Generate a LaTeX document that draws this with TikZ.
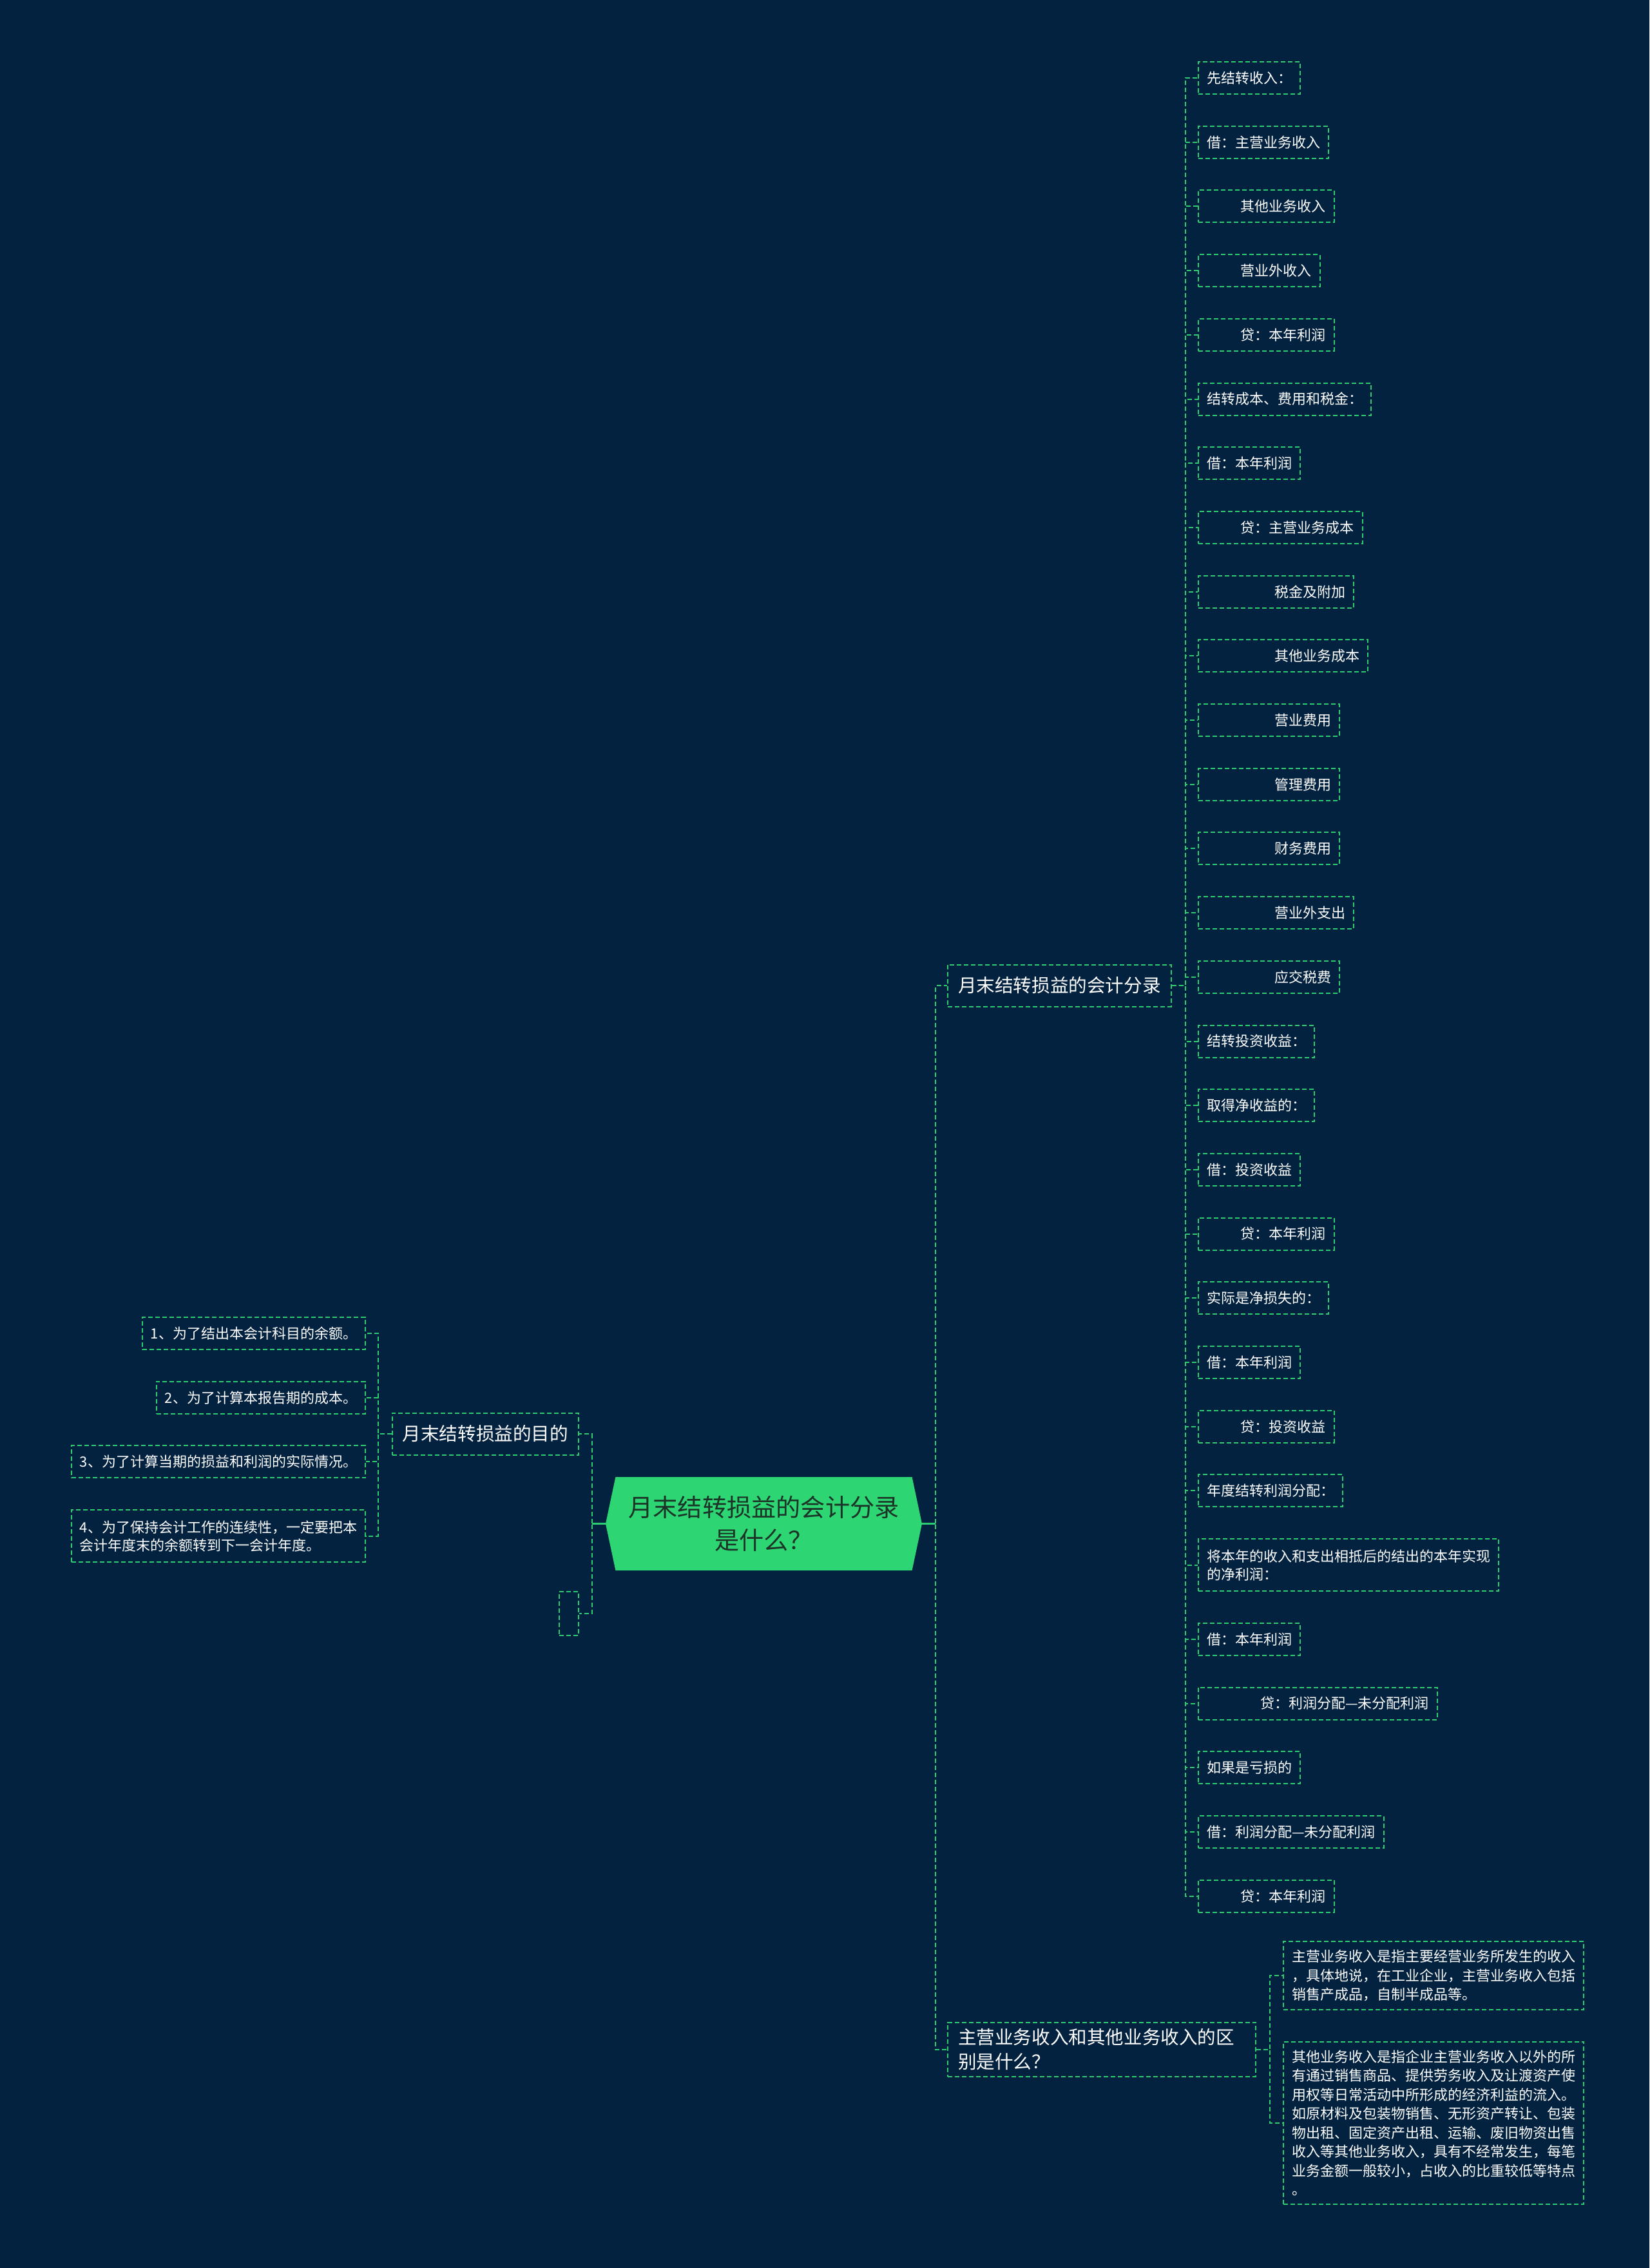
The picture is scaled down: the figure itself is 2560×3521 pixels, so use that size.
\documentclass[tikz,border=0pt]{standalone}
\usepackage{fontspec}
\setmainfont{Noto Sans CJK SC}
\usepackage{tikz}
\usetikzlibrary{positioning,shapes.symbols}
\definecolor{BgNavy}{RGB}{2,34,63}
\definecolor{LGreen}{RGB}{46,204,113}
\definecolor{RootGreen}{RGB}{46,213,115}
\definecolor{RootText}{RGB}{28,52,40}
\newcommand{\shiftA}{\hspace*{26.3pt}}
\newcommand{\shiftB}{\hspace*{52.5pt}}
\newcommand{\shiftC}{\hspace*{41.5pt}}

\tikzset{
  link/.style={draw=LGreen, line width=1pt, dash pattern=on 3.5pt off 2pt},
  leafbox/.style={draw=LGreen, line width=1pt, dash pattern=on 3.5pt off 2pt,
    text=white, font=\fontsize{11}{14}\selectfont, inner xsep=6.5pt,
    inner ysep=3pt, minimum height=25pt, align=left},
  notebox/.style={leafbox, font=\fontsize{11}{14.75}\selectfont, inner ysep=6.5pt},
  branchbox/.style={leafbox, font=\fontsize{14.3}{19}\selectfont,
    inner xsep=8pt, inner ysep=5pt, minimum height=32.5pt},
  rootbox/.style={signal, signal to=east and west, signal pointer angle=156,
    fill=RootGreen, text=RootText, font=\fontsize{19.1}{25.5}\selectfont,
    align=center, minimum width=245.5pt, minimum height=72.5pt, inner sep=0pt}
}

\begin{document}
\begin{tikzpicture}[x=0.5pt, y=-0.5pt]
  \fill[BgNavy] (0,0) rectangle (2560,3521);
  \useasboundingbox (0,0) rectangle (2560,3521);

  % centre and main branches
  \node[rootbox] (root) at (1185.5,2365.5) {月末结转损益的会计分录\\是什么？};
  \node[branchbox, anchor=west] (entry) at (1470,1530) {月末结转损益的会计分录};
  \node[branchbox, anchor=west, text width=223pt] (diff) at (1470,3182)
    {主营业务收入和其他业务收入的区\\别是什么？};
  \node[branchbox, anchor=east] (goal) at (899,2226) {月末结转损益的目的};
  \node[leafbox, anchor=east, minimum width=15pt, minimum height=34pt] (blank) at (899,2505) {};

  % entries
  \node[leafbox, anchor=west] (e1) at (1859,121) {先结转收入：};
  \node[leafbox, below right=23.85pt and 0pt of e1.south west] (e2) {借：主营业务收入};
  \node[leafbox, below right=23.85pt and 0pt of e2.south west] (e3) {\shiftA 其他业务收入};
  \node[leafbox, below right=23.85pt and 0pt of e3.south west] (e4) {\shiftA 营业外收入};
  \node[leafbox, below right=23.85pt and 0pt of e4.south west] (e5) {\shiftA 贷：本年利润};
  \node[leafbox, below right=23.85pt and 0pt of e5.south west] (e6) {结转成本、费用和税金：};
  \node[leafbox, below right=23.85pt and 0pt of e6.south west] (e7) {借：本年利润};
  \node[leafbox, below right=23.85pt and 0pt of e7.south west] (e8) {\shiftA 贷：主营业务成本};
  \node[leafbox, below right=23.85pt and 0pt of e8.south west] (e9) {\shiftB 税金及附加};
  \node[leafbox, below right=23.85pt and 0pt of e9.south west] (e10) {\shiftB 其他业务成本};
  \node[leafbox, below right=23.85pt and 0pt of e10.south west] (e11) {\shiftB 营业费用};
  \node[leafbox, below right=23.85pt and 0pt of e11.south west] (e12) {\shiftB 管理费用};
  \node[leafbox, below right=23.85pt and 0pt of e12.south west] (e13) {\shiftB 财务费用};
  \node[leafbox, below right=23.85pt and 0pt of e13.south west] (e14) {\shiftB 营业外支出};
  \node[leafbox, below right=23.85pt and 0pt of e14.south west] (e15) {\shiftB 应交税费};
  \node[leafbox, below right=23.85pt and 0pt of e15.south west] (e16) {结转投资收益：};
  \node[leafbox, below right=23.85pt and 0pt of e16.south west] (e17) {取得净收益的：};
  \node[leafbox, below right=23.85pt and 0pt of e17.south west] (e18) {借：投资收益};
  \node[leafbox, below right=23.85pt and 0pt of e18.south west] (e19) {\shiftA 贷：本年利润};
  \node[leafbox, below right=23.85pt and 0pt of e19.south west] (e20) {实际是净损失的：};
  \node[leafbox, below right=23.85pt and 0pt of e20.south west] (e21) {借：本年利润};
  \node[leafbox, below right=23.85pt and 0pt of e21.south west] (e22) {\shiftA 贷：投资收益};
  \node[leafbox, below right=23.85pt and 0pt of e22.south west] (e23) {年度结转利润分配：};
  \node[leafbox, below right=23.85pt and 0pt of e23.south west, minimum height=40.5pt] (e24)
    {将本年的收入和支出相抵后的结出的本年实现\\的净利润：};
  \node[leafbox, below right=23.85pt and 0pt of e24.south west] (e25) {借：本年利润};
  \node[leafbox, below right=23.85pt and 0pt of e25.south west] (e26) {\shiftC 贷：利润分配—未分配利润};
  \node[leafbox, below right=23.85pt and 0pt of e26.south west] (e27) {如果是亏损的};
  \node[leafbox, below right=23.85pt and 0pt of e27.south west] (e28) {借：利润分配—未分配利润};
  \node[leafbox, below right=23.85pt and 0pt of e28.south west] (e29) {\shiftA 贷：本年利润};

  % difference notes
  \node[notebox, anchor=west] (d1) at (1991,3067)
    {主营业务收入是指主要经营业务所发生的收入\\，具体地说，在工业企业，主营业务收入包括\\销售产成品，自制半成品等。};
  \node[notebox, anchor=west] (d2) at (1991,3296)
    {其他业务收入是指企业主营业务收入以外的所\\有通过销售商品、提供劳务收入及让渡资产使\\用权等日常活动中所形成的经济利益的流入。\\如原材料及包装物销售、无形资产转让、包装\\物出租、固定资产出租、运输、废旧物资出售\\收入等其他业务收入，具有不经常发生，每笔\\业务金额一般较小，占收入的比重较低等特点\\。};

  % goals
  \node[leafbox, anchor=east] (g1) at (568,2070) {1、为了结出本会计科目的余额。};
  \node[leafbox, below left=23.85pt and 0pt of g1.south east] (g2) {2、为了计算本报告期的成本。};
  \node[leafbox, below left=23.85pt and 0pt of g2.south east] (g3) {3、为了计算当期的损益和利润的实际情况。};
  \node[leafbox, below left=23.85pt and 0pt of g3.south east, minimum height=40.5pt] (g4)
    {4、为了保持会计工作的连续性，一定要把本\\会计年度末的余额转到下一会计年度。};

  % connectors
  \draw[link] (root.east) -- ++(21,0) |- (entry.west);
  \draw[link] (root.east) -- ++(21,0) |- (diff.west);
  \draw[link] (root.west) -- ++(-21,0) |- (goal.east);
  \draw[link] (root.west) -- ++(-21,0) |- (blank.east);
  \draw[LGreen, line width=1.5pt] (root.east) -- ++(21,0);
  \draw[LGreen, line width=1.5pt] (root.west) -- ++(-21,0);
  \foreach \i in {1,...,29}
    \draw[link] (entry.east) -- ++(21,0) |- (e\i.west);
  \foreach \i in {1,2}
    \draw[link] (diff.east) -- ++(21,0) |- (d\i.west);
  \foreach \i in {1,...,4}
    \draw[link] (goal.west) -- ++(-21,0) |- (g\i.east);
\end{tikzpicture}
\end{document}
